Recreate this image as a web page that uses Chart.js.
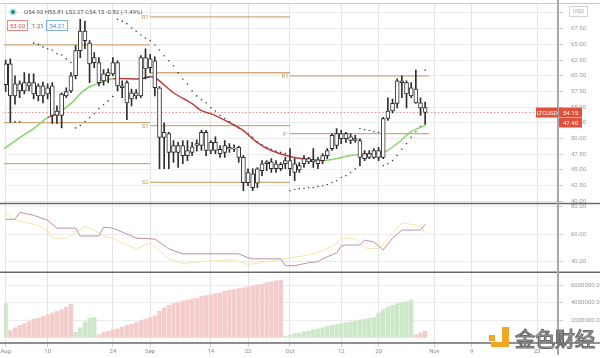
<!DOCTYPE html>
<html><head><meta charset="utf-8">
<script src="https://cdn.jsdelivr.net/npm/chart.js@4.4.1/dist/chart.umd.min.js"></script>
<style>html,body{margin:0;padding:0;background:#fff;overflow:hidden}#wrap{position:relative;width:600px;height:358px}</style>
</head><body><div id="wrap"><canvas id="c" width="600" height="358"></canvas></div>
<script>
// ---- data (day 0 = Aug 1) ----
const openP  = [58.6,61.9,56.8,58.7,57.6,58.9,58.9,56.8,58.4,57.1, 58.4,53.7,53.7,57.5,57.6,60.0,64.0,67.1,65.2,62.1, 62.1,59.2,60.0,60.3,62.1,58.4,58.9,56.3,57.3,56.8, 62.9,61.3,62.4,58.1,50.2,50.8,47.8,48.9,47.3,48.1, 47.8,48.9,48.9,51.0,48.1,49.4,48.3,47.8,48.6,48.3, 48.6,47.0,43.0,44.4,42.9,44.9,46.0,46.3,45.2,45.9, 46.0,46.5,44.6,45.0,46.0,46.8,46.3,46.6,46.5,47.3, 48.4,48.9,50.0,50.8,49.7,50.0,49.7,46.8,47.6,47.0, 48.1,47.0,53.2,54.4,55.6,59.2,58.9,56.8,57.9,55.7, 54.93];
const highP  = [62.5,62.7,60.0,59.2,60.5,60.3,60.3,58.7,59.0,58.7, 58.9,55.2,57.3,58.1,60.5,64.8,69.0,68.7,65.6,63.7, 62.9,61.0,61.1,62.9,62.4,59.2,59.2,57.9,57.8,63.2, 64.3,63.4,63.0,58.3,52.5,51.0,49.7,49.4,49.7,49.7, 49.4,49.8,51.3,51.3,49.7,50.3,48.9,49.7,49.2,49.0, 48.8,47.3,45.2,45.2,45.4,46.5,46.5,46.8,46.5,46.2, 47.0,48.4,46.8,46.2,47.3,47.0,48.4,47.0,47.6,48.4, 50.8,51.6,51.3,51.0,50.8,50.5,50.0,48.1,48.1,48.4, 48.6,53.4,56.5,56.3,59.5,60.0,59.2,58.9,60.9,56.5, 55.81];
const lowP   = [57.5,52.6,55.5,56.5,57.1,57.6,56.3,56.0,55.7,56.3, 52.4,52.4,51.7,56.5,57.3,59.5,62.9,64.3,58.9,61.3, 58.4,58.5,58.9,60.0,57.6,56.5,53.0,55.2,56.3,56.5, 59.5,60.5,56.8,45.2,45.2,45.2,46.2,45.4,46.0,46.5, 47.3,48.0,48.1,47.3,47.6,47.6,47.0,47.0,47.8,47.9, 46.2,41.7,42.5,41.7,42.2,44.1,44.9,44.6,44.6,44.9, 45.2,44.1,43.3,44.6,45.4,46.0,45.4,45.2,46.0,46.8, 48.1,48.4,49.2,49.4,49.2,49.4,45.7,46.5,46.8,46.8, 46.5,46.8,52.9,54.1,54.9,56.5,54.9,56.5,55.6,53.7, 52.27];
const closeP = [61.9,56.8,58.7,57.6,58.9,58.4,57.1,58.4,56.8,58.1, 53.7,54.4,57.1,56.8,60.0,64.0,67.1,65.6,61.9,62.9, 58.9,60.3,60.5,62.1,58.4,58.1,55.7,57.3,56.8,62.9, 61.1,62.7,58.1,50.2,51.0,47.8,48.9,47.8,48.9,47.3, 48.7,49.2,51.0,48.1,49.4,48.1,47.6,48.9,48.3,48.5, 47.0,43.0,44.6,42.2,45.2,46.0,46.3,45.2,46.0,45.2, 46.5,45.2,46.0,45.7,46.8,46.3,46.6,46.0,47.3,48.1, 50.5,50.8,50.8,50.0,50.3,49.7,47.0,47.6,47.0,48.1, 47.0,53.2,54.4,55.6,59.2,58.9,57.1,58.1,55.7,54.9, 54.15];

const volumeM = [3.9,0.8,1.1,1.4,1.6,1.8,2.1,2.2,2.4,2.6, 2.8,3.0,3.2,3.5,3.8,0.6,1.1,1.8,2.2,2.3, 0.3,0.6,0.7,0.9,1.0,1.2,1.4,1.5,1.7,1.9, 2.1,2.3,2.5,3.0,3.4,3.7,3.9,4.0,4.2,4.3, 4.4,4.5,4.7,4.8,4.9,5.0,5.1,5.3,5.4,5.5, 5.6,5.7,5.8,5.9,6.05,6.1,6.3,6.4,6.5,6.6, 0.15,0.3,0.45,0.5,0.65,0.75,0.9,1.0,1.1,1.25, 1.4,1.5,1.6,1.7,1.8,1.85,2.0,2.1,2.2,2.3, 2.8,3.2,3.5,3.7,3.9,4.0,4.1,4.3,0.3,0.5, 0.7];
const volumeUp = [1,0,0,0,0,0,0,0,0,0, 0,0,0,0,0,1,1,1,1,1, 0,0,0,0,0,0,0,0,0,0, 0,0,0,0,0,0,0,0,0,0, 0,0,0,0,0,0,0,0,0,0, 0,0,0,0,0,0,0,0,0,0, 1,1,1,1,1,1,1,1,1,1, 1,1,1,1,1,1,1,1,1,1, 1,1,1,1,1,1,1,1,0,0, 0];

const sarDays = [2,3,6,7,8,9,10,11,12,13,14, 15,16,17,18,19,20,21,22,23, 24,25,26,27,28,29,30,31,32,33,34,35,36,37,38,39,40,41,42,43,44,45,46,47,48,49,50,51,52,53,54,55,56,57,58,59,60, 61,62,63,64,65,66,67,68,69,70,71,72,73,74,75, 76,77,78,79,80, 81,82,83,84,85,86,87,88,89, 90];
const sarVals = [52.7,52.7,65.2,65.0,64.6,64.3,64.1,63.5,63.3,62.7,62.1, 51.7,52.1,52.7,53.3,54.0,54.8,55.4,56.0,56.7, 69.0,68.7,68.3,67.6,67.1,66.5,66.0,65.6,64.9,64.1,63.2,62.4,61.6,60.5,59.5,58.7,57.6,56.8,56.2,55.7,54.9,54.4,53.7,53.2,52.7,52.2,51.7,51.3,50.8,50.2,49.5,49.0,48.6,48.3,48.0,47.8,47.6, 41.7,41.9,42.0,42.1,42.2,42.2,42.4,42.5,42.7,43.0,43.3,43.8,44.1,44.6,45.2, 51.6,51.4,51.3,51.1,51.0, 45.7,46.0,46.5,47.3,48.3,49.2,50.2,51.1,51.9, 60.9];

const maDays = [-1,0,3,6,9,11,14,16,18,21,23,29,31,32,33,36,40,42,44,48,51,54,57,61,65,68,70,74,76,81,84,87,90];
const maVals = [48.1,48.57,50.16,51.59,53.33,53.97,55.56,57.14,58.25,59.05,59.52,59.52,59.84,59.68,59.2,57.3,55.56,54.44,53.97,52.54,51.27,49.37,48.1,47.14,46.67,46.51,46.67,47.3,47.46,47.78,49.2,51.1,52.06];
const maTone = ['g','g','g','g','r','g','g','g','g','g','r','k','r','r','r','r','r','r','r','r','r','r','r','r','r','g','g','g','r','g','g','g','g'];

const oscDays = [0,2,3,4,6,9,11,15,16,20,21,23,27,28,32,35,38,50,52,53,59,60,62,65,67,68,71,72,73,76,77,79,81,83,85,89,90];
const oscVals = [70.7,70.7,75.7,75.0,73.6,70.0,64.3,64.3,58.6,58.6,65.0,64.3,58.6,57.1,56.4,49.3,45.7,45.7,42.9,42.1,42.1,37.1,37.1,39.3,40.0,42.1,46.4,51.4,52.1,52.1,55.7,54.3,48.6,57.1,62.9,62.9,67.1];
const sigDays = [0,1,3,7,9,10,13,17,19,21,23,25,28,31,33,35,38,42,49,52,56,59,61,64,66,68,71,72,75,76,77,80,81,83,85,87,89,90];
const sigVals = [76.4,71.4,69.3,66.4,62.1,57.1,57.1,65.7,62.9,58.6,57.1,53.6,49.3,53.6,47.9,42.1,38.6,40.0,41.4,37.9,40.0,41.4,42.9,44.3,45.7,47.9,52.9,57.1,57.1,52.9,50.0,49.3,52.9,60.7,67.9,67.1,65.7,60.7];

const pivStart = [-1,-1,-1,31,31,31,31,61,61];
const pivEnd   = [31,31,31,61,61,61,61,90.8,90.8];
const pivVal   = [64.92,52.54,46.03,69.37,60.48,52.06,43.02,60.0,50.79];
const pivLabel = ['','','','R1','P','S1','S2','R1','P'];

const xTickDays   = [0,9,23,31,44,52,61,72,80,92,100,114];
const xTickLabels = ['Aug','10','24','Sep','14','22','Oct','12','20','Nov','9','23'];
const priceTicks = [40,42.5,45,47.5,50,52.5,55,57.5,60,62.5,65,67.5,70];
const oscTicks = [40,60,80];
const volTicks = [2000000,4000000,6000000];

// ---- build datasets ----
const days = openP.map((_, i) => i);
const bodies = days.map(i => ({x: i, y: [Math.min(openP[i], closeP[i]), Math.max(openP[i], closeP[i]) + (openP[i] === closeP[i] ? 0.1 : 0)]}));
const wicks = days.map(i => ({x: i, y: [lowP[i], highP[i]]}));
const vols = days.map(i => ({x: i, y: volumeM[i] * 1e6}));
const volColors = days.map(i => volumeUp[i] ? '#cde8c9' : '#f5cccc');
const pivData = [];
pivVal.forEach((v, i) => { pivData.push({x: pivStart[i], y: v}, {x: pivEnd[i], y: v}, {x: pivEnd[i] + 0.01, y: null}); });
const toneCol = {g: '#86d46a', r: '#b8403c', k: '#333333'};

Chart.defaults.font.family = 'Roboto, "Liberation Sans", sans-serif';

const tickFont = {size: 6};
const fitY = s => { s.width = 42; s.paddingTop = 0; s.paddingBottom = 0; };
const decor = {
  id: 'decor',
  beforeDatasetsDraw(chart) {
    const {ctx, chartArea: ca} = chart;
    const y = chart.scales.yP.getPixelForValue(closeP[closeP.length - 1]);
    ctx.save();
    ctx.strokeStyle = 'rgba(225,110,110,0.75)';
    ctx.lineWidth = 1; ctx.setLineDash([1.5, 2]);
    ctx.beginPath(); ctx.moveTo(ca.left, y); ctx.lineTo(ca.right, y); ctx.stroke();
    ctx.restore();
  },
  afterDraw(chart) {
    const {ctx, chartArea: ca} = chart;
    const yP = chart.scales.yP, yR = chart.scales.yR, x = chart.scales.x;
    ctx.save();
    ctx.strokeStyle = '#c8c8c8'; ctx.lineWidth = 1;
    ctx.beginPath(); ctx.moveTo(0, 3.5); ctx.lineTo(600, 3.5); ctx.stroke();
    ctx.strokeStyle = '#6a6a6a'; ctx.lineWidth = 1.5;
    [yP.bottom, yR.bottom, x.top].forEach(yy => { ctx.beginPath(); ctx.moveTo(0, yy); ctx.lineTo(600, yy); ctx.stroke(); });
    ctx.strokeStyle = '#a8a8a8'; ctx.lineWidth = 2;
    ctx.beginPath(); ctx.moveTo(ca.right, 0); ctx.lineTo(ca.right, 355); ctx.stroke();
    ctx.font = '6px Roboto'; ctx.fillStyle = '#c09a62'; ctx.textAlign = 'center'; ctx.textBaseline = 'middle';
    pivLabel.forEach((l, i) => { if (l) ctx.fillText(l, x.getPixelForValue(pivStart[i]) - 5, yP.getPixelForValue(pivVal[i]) + 0.5); });
    const py = yP.getPixelForValue(closeP[closeP.length - 1]);
    ctx.fillStyle = '#e0503d';
    ctx.fillRect(536, py - 5, 22, 10);
    ctx.fillRect(559, py - 5, 23, 10);
    ctx.fillRect(559, py + 5.5, 23, 9.5);
    ctx.fillStyle = '#fff'; ctx.font = '6px Roboto';
    ctx.fillText('LTCUSD', 547, py + 0.5);
    ctx.fillText(closeP[closeP.length - 1].toFixed(2), 570.5, py + 0.5);
    ctx.fillText('47.40', 570.5, py + 10.5);
    // USD box (covers part of the top tick label, as in the reference)
    ctx.fillStyle = '#fff'; ctx.fillRect(569, 6, 19, 11);
    ctx.strokeStyle = '#d2d2d2'; ctx.lineWidth = 1;
    ctx.strokeRect(569.5, 6.5, 18, 10);
    ctx.fillStyle = '#aaa'; ctx.fillText('USD', 578.5, 11.8);
    ctx.fillStyle = 'rgba(38,166,154,0.25)'; ctx.beginPath(); ctx.arc(13, 12, 3.8, 0, Math.PI * 2); ctx.fill();
    ctx.fillStyle = '#1f8a7d'; ctx.beginPath(); ctx.arc(13, 12, 2, 0, Math.PI * 2); ctx.fill();
    ctx.textAlign = 'left'; ctx.fillStyle = '#555'; ctx.font = '6px Roboto';
    const o = openP.length - 1;
    ctx.fillText('O' + openP[o].toFixed(2) + ' H' + highP[o].toFixed(2) + ' L' + lowP[o].toFixed(2) + ' C' + closeP[o].toFixed(2) + ' -0.82 (-1.49%)', 24, 12.5);
    ctx.strokeStyle = '#e08a8a'; ctx.strokeRect(7.5, 20.5, 20, 10);
    ctx.fillStyle = '#d05050'; ctx.fillText('53.00', 10, 26);
    ctx.fillStyle = '#666'; ctx.fillText('1.21', 32, 26);
    ctx.strokeStyle = '#7fb0dd'; ctx.strokeRect(46.5, 20.5, 21, 10);
    ctx.fillStyle = '#4a86c5'; ctx.fillText('54.21', 49.5, 26);
    ctx.fillStyle = '#f2a623';
    ctx.fillRect(489, 335, 6, 6);
    ctx.fillRect(502, 327, 7, 20);
    ctx.fillRect(491, 342, 18, 5);
    ctx.font = '20px "Noto Sans CJK SC"'; ctx.textBaseline = 'alphabetic';
    ctx.lineWidth = 1.2; ctx.strokeStyle = '#6d6d6d'; ctx.fillStyle = '#e6e6e6';
    ctx.fillText('金色财经', 515, 347); ctx.strokeText('金色财经', 515, 347);
    ctx.restore();
  }
};

new Chart(document.getElementById('c'), {
  type: 'bar',
  data: {
    datasets: [
      {type: 'bar', data: bodies, yAxisID: 'yP', backgroundColor: '#ffffff', borderColor: '#2e2e2e', borderWidth: 1, borderSkipped: false, barThickness: 4, grouped: false, order: 0},
      {type: 'bar', data: wicks, yAxisID: 'yP', backgroundColor: '#2e2e2e', barThickness: 1, grouped: false, order: 1},
      {type: 'line', data: maDays.map((d, i) => ({x: d, y: maVals[i]})), yAxisID: 'yP', borderWidth: 1.5, pointRadius: 0, tension: 0.3,
        segment: {borderColor: c => toneCol[maTone[c.p0DataIndex]]}, borderColor: '#86d46a', order: 2},
      {type: 'line', data: sarDays.map((d, i) => ({x: d, y: sarVals[i]})), yAxisID: 'yP', showLine: false, pointRadius: 0.8, pointBorderWidth: 0, pointBackgroundColor: '#444', order: 3},
      {type: 'line', data: pivData, yAxisID: 'yP', borderColor: 'rgba(196,150,95,0.8)', borderWidth: 1.3, pointRadius: 0, spanGaps: false, order: 4},
      {type: 'line', data: oscDays.map((d, i) => ({x: d, y: oscVals[i]})), yAxisID: 'yR', borderColor: '#bf8eaa', borderWidth: 1, pointRadius: 0, order: 5},
      {type: 'line', data: sigDays.map((d, i) => ({x: d, y: sigVals[i]})), yAxisID: 'yR', borderColor: '#f0e8a6', borderWidth: 1, pointRadius: 0, order: 6},
      {type: 'bar', data: vols, yAxisID: 'yV', backgroundColor: volColors, barThickness: 3.7, grouped: false, order: 7}
    ]
  },
  options: {
    responsive: false, animation: false, events: [],
    layout: {padding: {top: 3, left: 0, right: 0, bottom: 0}},
    plugins: {legend: {display: false}, tooltip: {enabled: false}},
    scales: {
      x: {type: 'linear', position: 'bottom', min: -0.36, max: 118.5, offset: false,
        afterBuildTicks: s => { s.ticks = xTickDays.map(v => ({value: v})); },
        afterFit: s => { s.height = 15; s.paddingLeft = 0; s.paddingRight = 0; },
        ticks: {autoSkip: false, maxRotation: 0, font: tickFont, color: '#8a8a8a', padding: 1,
          callback: v => xTickLabels[xTickDays.indexOf(v)]},
        grid: {color: '#e4e4e4', offset: false, tickLength: 4, tickColor: '#cfcfcf'},
        border: {display: false}},
      yP: {type: 'linear', position: 'right', stack: 'panes', stackWeight: 200, min: 39.68, max: 71.43,
        afterBuildTicks: s => { s.ticks = priceTicks.map(v => ({value: v})); },
        afterFit: fitY,
        ticks: {autoSkip: false, font: tickFont, color: '#9a9a9a', padding: 8, callback: v => v.toFixed(2)},
        grid: {color: '#ececec', tickLength: 5, tickColor: '#cfcfcf'}, border: {display: false}},
      yR: {type: 'linear', position: 'right', stack: 'panes', stackWeight: 69, min: 32.4, max: 82.2,
        afterBuildTicks: s => { s.ticks = oscTicks.map(v => ({value: v})); },
        afterFit: fitY,
        ticks: {autoSkip: false, font: tickFont, color: '#9a9a9a', padding: 8, callback: v => v.toFixed(2)},
        grid: {color: '#ececec', tickLength: 5, tickColor: '#cfcfcf'}, border: {display: false}},
      yV: {type: 'linear', position: 'right', stack: 'panes', stackWeight: 71, min: -630000, max: 7490000,
        afterBuildTicks: s => { s.ticks = volTicks.map(v => ({value: v})); },
        afterFit: fitY,
        ticks: {autoSkip: false, font: tickFont, color: '#9a9a9a', padding: 8, callback: v => v.toFixed(2)},
        grid: {color: '#ececec', tickLength: 5, tickColor: '#cfcfcf'}, border: {display: false}}
    }
  },
  plugins: [decor]
});
</script>
</body></html>
